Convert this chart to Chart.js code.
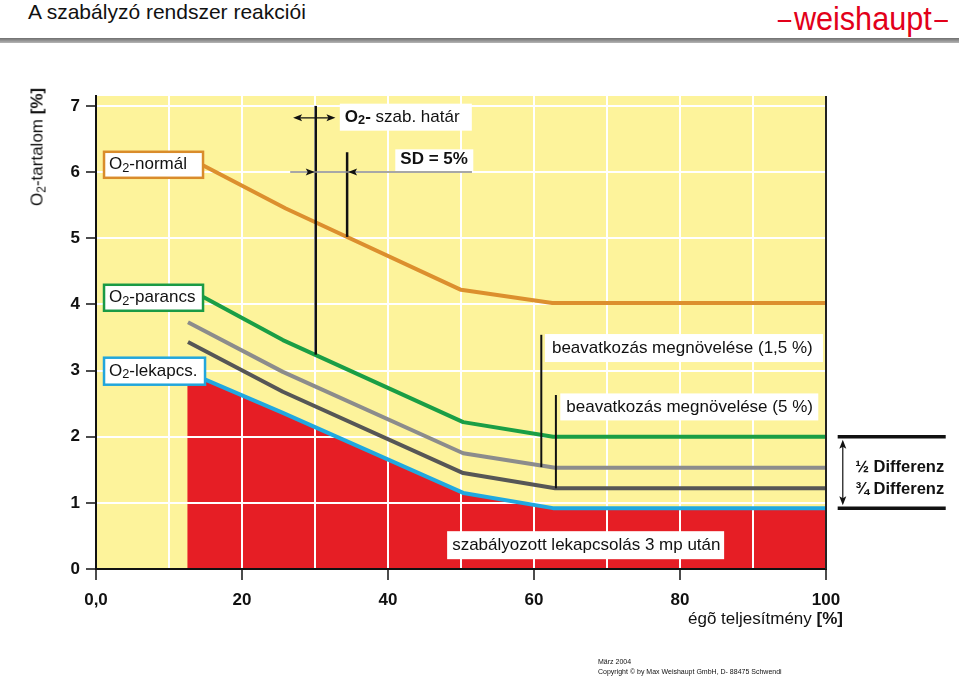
<!DOCTYPE html>
<html>
<head>
<meta charset="utf-8">
<script src="https://cdn.jsdelivr.net/npm/chart.js@4.4.1/dist/chart.umd.min.js"></script>
<style>
body { margin: 0; width: 959px; height: 676px; position: relative; overflow: hidden; background: #fff; font-family: "Liberation Sans", Arial, sans-serif; color: #111; }
#title { position: absolute; left: 28px; top: 0px; font-size: 21px; }
#logo { position: absolute; left: 775px; top: -1px; color: #e2001a; font-size: 34px; white-space: nowrap; transform: scaleX(0.9); transform-origin: left top; }
#logo .dash { display: inline-block; width: 15px; height: 2px; background: #e2001a; vertical-align: middle; margin: 0 3px; }
#rule { position: absolute; left: 0; top: 38px; width: 959px; height: 5px; background: linear-gradient(#6f6f6f, #b5b5b5); }
#chart { position: absolute; left: 0; top: 0; }
#ytitle { position: absolute; left: 38px; top: 147px; transform: translate(-50%, -50%) rotate(-90deg); white-space: nowrap; font-size: 17px; }
#xtitle { position: absolute; left: 688px; top: 609px; font-size: 17px; white-space: nowrap; }
sub { font-size: 12px; vertical-align: -3px; }
#foot { position: absolute; left: 598px; top: 657px; font-size: 7px; line-height: 10px; }
</style>
</head>
<body>
<div id="title">A szabályzó rendszer reakciói</div>
<div id="logo"><span class="dash"></span>weishaupt<span class="dash"></span></div>
<div id="rule"></div>
<canvas id="chart" width="959" height="676"></canvas>
<div id="ytitle">O<sub>2</sub>-tartalom <b>[%]</b></div>
<div id="xtitle">égõ teljesítmény <b>[%]</b></div>
<div id="foot">März 2004<br>Copyright © by Max Weishaupt GmbH, D- 88475 Schwendi</div>
<script>
// burner load [%] -> O2 content [%]
const normalX = [14.7, 26, 50, 62.5, 100];
const normalO2 = [6.1, 5.45, 4.22, 4.02, 4.02];
const commandX = [14.7, 25.6, 50.3, 62.6, 100];
const commandO2 = [4.11, 3.46, 2.22, 2.0, 2.0];
const step15X = [12.6, 25.6, 50.3, 62.9, 100];
const step15O2 = [3.73, 2.98, 1.75, 1.53, 1.53];
const step5X = [12.6, 25.6, 50.3, 62.9, 100];
const step5O2 = [3.43, 2.68, 1.45, 1.22, 1.22];
const shutdownX = [12.5, 25.6, 50.3, 62.6, 100];
const shutdownO2 = [2.98, 2.36, 1.15, 0.92, 0.92];
const loadRange = [0, 100];
const yTicks = [0, 1, 2, 3, 4, 5, 6, 7];
const xLabelStep = 20;

const pts = (xs, ys) => xs.map((x, i) => ({ x: x, y: ys[i] }));

function drawLine(ctx, x1, y1, x2, y2, color, width) {
    ctx.beginPath();
    ctx.moveTo(x1, y1);
    ctx.lineTo(x2, y2);
    ctx.strokeStyle = color;
    ctx.lineWidth = width;
    ctx.stroke();
}

// filled arrow head with tip at (x, y), pointing in direction (dx, dy)
function arrowHead(ctx, x, y, dx, dy) {
    const len = 9, half = 3.5;
    const bx = x - dx * len, by = y - dy * len;
    ctx.beginPath();
    ctx.moveTo(x, y);
    ctx.lineTo(bx - dy * half, by + dx * half);
    ctx.lineTo(bx + dx * 2, by + dy * 2);
    ctx.lineTo(bx + dy * half, by - dx * half);
    ctx.closePath();
    ctx.fillStyle = "#111";
    ctx.fill();
}

// parts: [text, bold, sub]
function drawParts(ctx, parts, x, y, size) {
    parts.forEach(p => {
        const s = p[2] ? size * 0.75 : size;
        ctx.font = (p[1] ? "bold " : "") + s + "px 'Liberation Sans', Arial, sans-serif";
        ctx.fillStyle = "#111";
        ctx.textBaseline = "middle";
        ctx.fillText(p[0], x, p[2] ? y + size * 0.2 : y);
        x += ctx.measureText(p[0]).width;
    });
}

function box(ctx, left, cy, w, h, border) {
    ctx.fillStyle = "#fff";
    ctx.fillRect(left, cy - h / 2, w, h);
    if (border) {
        ctx.strokeStyle = border;
        ctx.lineWidth = 2.5;
        ctx.strokeRect(left, cy - h / 2, w, h);
    }
}

const annotations = {
    id: "annotations",
    afterDatasetsDraw(chart) {
        const { ctx, chartArea } = chart;
        const px = v => chart.scales.x.getPixelForValue(v);
        const py = v => chart.scales.y.getPixelForValue(v);
        ctx.save();
        ctx.lineCap = "butt";

        // right frame line
        drawLine(ctx, px(100), chartArea.top, px(100), chartArea.bottom, "#222", 2);

        // O2 control limit / SD marks
        drawLine(ctx, px(30.1), py(7.0), px(30.1), py(3.24), "#111", 2.5);
        drawLine(ctx, px(34.4), py(6.3), px(34.4), py(5.02), "#111", 2.5);
        drawLine(ctx, px(27.0) + 4, py(6.82), px(32.8) - 4, py(6.82), "#111", 1.2);
        arrowHead(ctx, px(27.0), py(6.82), -1, 0);
        arrowHead(ctx, px(32.8), py(6.82), 1, 0);

        box(ctx, px(33.4), py(6.83), 132, 27);
        drawParts(ctx, [["O", true], ["2", true, true], ["- ", true], ["szab. határ"]], px(33.4) + 5, py(6.83), 17);
        box(ctx, px(41.0), py(6.17), 78, 23);
        drawParts(ctx, [["SD = 5%", true]], px(41.0) + 5, py(6.2), 17);

        drawLine(ctx, px(26.6), py(6.0), px(51.5), py(6.0), "#8a8a8a", 1.5);
        arrowHead(ctx, px(30.1) - 1, py(6.0), 1, 0);
        arrowHead(ctx, px(34.4) + 1, py(6.0), -1, 0);

        // increased intervention markers
        drawLine(ctx, px(61.0), py(3.54), px(61.0), py(1.54), "#111", 2);
        drawLine(ctx, px(63.0), py(2.63), px(63.0), py(1.22), "#111", 2);
        box(ctx, px(61.5), py(3.34), 278, 28);
        drawParts(ctx, [["beavatkozás megnövelése (1,5 %)"]], px(61.5) + 7, py(3.34), 17);
        box(ctx, px(63.6), py(2.45), 258, 27);
        drawParts(ctx, [["beavatkozás megnövelése (5 %)"]], px(63.6) + 6, py(2.45), 17);

        box(ctx, px(48.1), py(0.36), 277, 28);
        drawParts(ctx, [["szabályozott lekapcsolás 3 mp után"]], px(48.1) + 5, py(0.36), 17);

        // curve labels
        box(ctx, px(1.1), py(6.11), 99, 26, "#d98c2b");
        drawParts(ctx, [["O"], ["2", false, true], ["-normál"]], px(1.1) + 5, py(6.11), 17);
        box(ctx, px(1.1), py(4.1), 99, 26, "#1a9a45");
        drawParts(ctx, [["O"], ["2", false, true], ["-parancs"]], px(1.1) + 5, py(4.1), 17);
        box(ctx, px(1.1), py(2.99), 101, 27, "#22a6dc");
        drawParts(ctx, [["O"], ["2", false, true], ["-lekapcs."]], px(1.1) + 5, py(2.99), 17);

        // difference bracket on the right
        drawLine(ctx, px(101.6), py(2.0), px(116.4), py(2.0), "#111", 3.5);
        drawLine(ctx, px(101.6), py(0.92), px(116.4), py(0.92), "#111", 3.5);
        drawLine(ctx, px(102.3), py(2.0) + 8, px(102.3), py(0.92) - 8, "#111", 1.2);
        arrowHead(ctx, px(102.3), py(2.0) + 3, 0, -1);
        arrowHead(ctx, px(102.3), py(0.92) - 3, 0, 1);
        drawParts(ctx, [["½ Differenz", true]], px(104), py(1.53), 16.5);
        drawParts(ctx, [["¾ Differenz", true]], px(104), py(1.21), 16.5);

        ctx.restore();
    }
};

document.addEventListener("DOMContentLoaded", function () {
    const canvas = document.getElementById("chart");
    const lineStyle = { pointRadius: 0, borderWidth: 4, tension: 0, fill: false, borderJoinStyle: "round" };
    const tickFont = { size: 17, weight: "bold", family: "'Liberation Sans', Arial, sans-serif" };

    new Chart(canvas, {
        type: "line",
        data: {
            datasets: [
                Object.assign({ label: "O2-normál", data: pts(normalX, normalO2), borderColor: "#dc8f2e" }, lineStyle),
                Object.assign({ label: "O2-parancs", data: pts(commandX, commandO2), borderColor: "#1a9e45" }, lineStyle),
                Object.assign({ label: "1,5 %", data: pts(step15X, step15O2), borderColor: "#8c8c8c" }, lineStyle),
                Object.assign({ label: "5 %", data: pts(step5X, step5O2), borderColor: "#565656" }, lineStyle),
                Object.assign({}, lineStyle, {
                    label: "O2-lekapcs.", data: pts(shutdownX, shutdownO2),
                    borderColor: "#20a8e0", backgroundColor: "#e61e25", fill: "origin"
                }),
                {
                    label: "háttér", data: pts(loadRange, [0, 0]), order: 10,
                    borderColor: "rgba(0,0,0,0)", borderWidth: 1, pointRadius: 0,
                    backgroundColor: "#fdf39b", fill: "end"
                }
            ]
        },
        options: {
            responsive: false,
            animation: false,
            layout: { padding: { top: 96, right: 133, left: 0, bottom: 0 } },
            plugins: {
                legend: { display: false },
                tooltip: { enabled: false },
                filler: { drawTime: "beforeDraw" }
            },
            scales: {
                x: {
                    type: "linear",
                    min: loadRange[0],
                    max: loadRange[1],
                    afterFit: scale => { scale.height = 107; },
                    ticks: {
                        stepSize: 10,
                        padding: 10,
                        color: "#111",
                        font: tickFont,
                        callback: v => v % xLabelStep === 0 ? (v === 0 ? "0,0" : String(v)) : ""
                    },
                    grid: {
                        color: "#ffffff",
                        lineWidth: 2,
                        tickLength: 11,
                        tickWidth: 1.5,
                        tickColor: c => (c.tick && c.tick.value % xLabelStep === 0) ? "#111" : "rgba(0,0,0,0)"
                    },
                    border: { color: "#111", width: 2 }
                },
                y: {
                    min: 0,
                    max: 7.15,
                    afterFit: scale => { scale.width = 96; },
                    afterBuildTicks: scale => { scale.ticks = yTicks.map(v => ({ value: v })); },
                    ticks: {
                        padding: 6,
                        color: "#111",
                        font: tickFont
                    },
                    grid: {
                        color: "#ffffff",
                        lineWidth: 2,
                        tickLength: 10,
                        tickWidth: 1.5,
                        tickColor: "#111"
                    },
                    border: { color: "#111", width: 2 }
                }
            }
        },
        plugins: [annotations]
    });
});
</script>
</body>
</html>
